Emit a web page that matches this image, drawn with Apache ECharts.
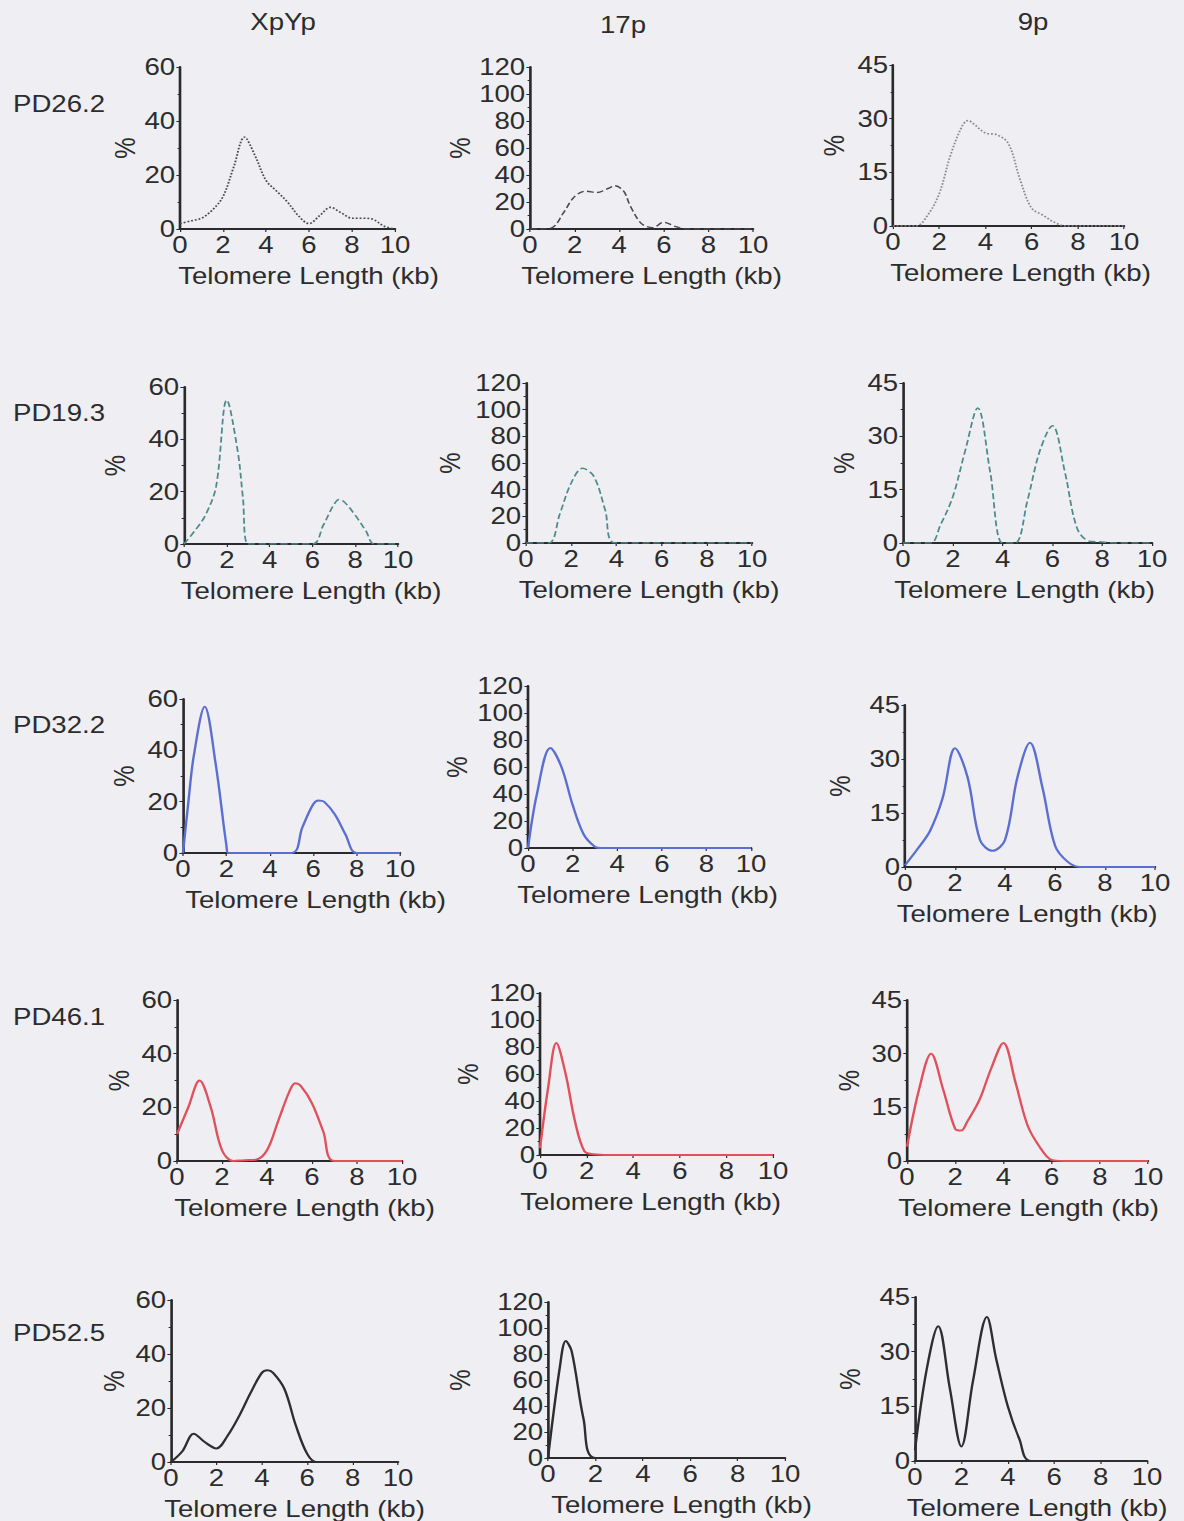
<!DOCTYPE html>
<html>
<head>
<meta charset="utf-8">
<script src="https://cdn.jsdelivr.net/npm/echarts@6/dist/echarts.min.js"></script>
<style>
  html, body { margin: 0; padding: 0; background: #eeeef3; overflow: hidden; }
  /* the scanned figure is stretched sideways, so the chart is drawn narrow and widened */
  #chart { width: 987px; height: 1521px; transform: scaleX(1.2); transform-origin: 0 0; }
</style>
</head>
<body>
<div id="chart"></div>
<script>
const SX = 1.2

const rowLabels = ['PD26.2', 'PD19.3', 'PD32.2', 'PD46.1', 'PD52.5']
const colLabels = ['XpYp', '17p', '9p']
const yMax = [60, 120, 45]
const yStep = [20, 20, 15]
const xTickStep = 2

// [kb, %]
const pd26_XpYp = [[0, 2], [0.5, 3], [1, 4], [1.5, 7], [2, 12], [2.5, 23], [3, 34], [3.5, 27], [4, 18], [4.5, 14], [5, 10], [5.5, 5], [6, 2], [6.5, 5], [7, 8], [7.5, 6], [8, 4], [8.5, 4], [9, 3.5], [9.5, 1], [10, 0]]
const pd26_17p = [[0, 0], [0.5, 0], [1, 1], [1.5, 12], [2, 24], [2.5, 28], [3, 27], [3.5, 30], [3.8, 32], [4.2, 28], [4.5, 17], [5, 4], [5.5, 1], [6, 5], [6.5, 2], [7, 0], [8, 0], [10, 0]]
const pd26_9p = [[0, 0], [1, 0], [1.5, 3], [2, 9], [2.5, 20], [3, 28], [3.25, 29.5], [3.5, 28.5], [4, 26], [4.5, 25.5], [5, 23], [5.5, 13], [6, 5], [6.5, 3], [7, 1], [7.5, 0], [10, 0]]

const pd19_XpYp = [[0, 0], [0.5, 5], [1, 11], [1.5, 22], [2, 55], [2.5, 36], [2.75, 18], [3, 0], [6, 0], [6.5, 7], [7, 15], [7.25, 17], [7.5, 16], [8, 11], [8.5, 5], [8.9, 0], [10, 0]]
const pd19_17p = [[0, 0], [1, 0], [1.5, 22], [2, 45], [2.5, 56], [3, 50], [3.5, 25], [3.95, 0], [10, 0]]
const pd19_9p = [[0, 0], [1.1, 0], [1.5, 5], [2, 13], [2.5, 26], [3, 38], [3.5, 20], [4, 0], [4.5, 0], [5, 12], [5.5, 26], [6, 33], [6.5, 20], [7, 4], [7.5, 0.5], [8, 0.3], [8.5, 0], [10, 0]]

const pd32_XpYp = [[0, 0], [0.25, 20], [0.5, 38], [1, 57], [1.5, 35], [2, 3], [2.1, 0], [5, 0], [5.5, 10], [6, 19], [6.25, 20.5], [6.5, 20], [7, 15], [7.5, 7], [8, 0], [10, 0]]
const pd32_17p = [[0, 0], [0.4, 40], [1, 74], [1.5, 60], [2, 32], [2.5, 10], [3, 1], [3.3, 0], [10, 0]]
const pd32_9p = [[0, 0.5], [0.5, 5], [1, 10], [1.5, 19], [2, 33], [2.5, 25], [3, 7.5], [3.5, 4.5], [4, 7.5], [4.5, 25], [5, 34.5], [5.5, 22], [6, 6], [6.5, 1.5], [7, 0], [10, 0]]

const pd46_XpYp = [[0, 10], [0.5, 20], [1, 30], [1.5, 20], [2, 4], [2.5, 0], [3, 0.3], [3.5, 0.5], [4, 4], [4.5, 15], [5, 26], [5.25, 29], [5.5, 28], [6, 21.5], [6.5, 11], [7, 0], [10, 0]]
const pd46_17p = [[0, 5], [0.35, 50], [0.7, 83], [1.1, 60], [1.5, 25], [1.9, 3], [2.3, 0.5], [3, 0], [10, 0]]
const pd46_9p = [[0, 4], [0.5, 20], [1, 30], [1.5, 20], [2, 9], [2.25, 8.5], [2.5, 11], [3, 17], [3.5, 26], [4, 33], [4.5, 22], [5, 10], [5.5, 4], [6, 0.3], [6.5, 0], [10, 0]]

const pd52_XpYp = [[0, 0], [0.5, 4], [1, 10.5], [1.5, 7.3], [2, 5], [2.5, 9.8], [3, 17], [3.5, 25.5], [4, 33], [4.25, 34], [4.5, 33], [5, 27], [5.5, 13.5], [6, 3], [6.4, 0], [10, 0]]
const pd52_17p = [[0, 0], [0.5, 70], [0.75, 90], [1, 82], [1.5, 30], [2, 0], [10, 0]]
const pd52_9p = [[0, 3], [0.5, 25], [1, 37], [1.5, 20], [2, 4], [2.5, 22], [3.1, 39.5], [3.5, 28], [4, 15], [4.5, 6], [5, 0], [10, 0]]

const panelData = [
  [pd26_XpYp, pd26_17p, pd26_9p],
  [pd19_XpYp, pd19_17p, pd19_9p],
  [pd32_XpYp, pd32_17p, pd32_9p],
  [pd46_XpYp, pd46_17p, pd46_9p],
  [pd52_XpYp, pd52_17p, pd52_9p]
]

// plot boxes in picture pixels: left, top, width, height
const boxes = [
  [[180, 67, 215, 162], [530, 67, 223, 162], [893, 65, 231, 161]],
  [[184, 387, 214, 157], [526, 383, 226, 160], [903, 383, 249, 160]],
  [[183, 699, 217, 154], [528, 686, 223, 162], [905, 705, 250, 162]],
  [[177, 1000, 225, 161], [540, 993, 233, 162], [907, 1000, 241, 161]],
  [[171, 1300, 227, 163], [548, 1302, 237, 156], [915, 1297, 232, 164]]
]
// where the axis titles sit: gap of the % from the y axis, sideways shift of the x title
const pctGap = [[34, 40, 37], [45, 51, 37], [37, 47, 42], [36, 48, 36], [35, 61, 42]]
const nameShift = [[21, 10, 12], [20, 10, -3], [24, 8, -3], [15, -6, 1], [10, 15, 6]]
const rowLabelY = [104, 413, 725, 1017, 1333]
const colTitlePos = [[283, 22], [623, 25], [1033, 22]]

const lineStyles = [
  [{ color: '#4a4a4a', type: 'dotted', width: 1.6 }, { color: '#4a4a4a', type: 'dashed', width: 1.4 }, { color: '#8c8c8c', type: 'dotted', width: 1.6 }],
  [{ color: '#4e8c8c', type: 'dashed', width: 1.5 }, { color: '#4e8c8c', type: 'dashed', width: 1.5 }, { color: '#4e8c8c', type: 'dashed', width: 1.5 }],
  [{ color: '#5b6fd2', type: 'solid', width: 2 }, { color: '#5b6fd2', type: 'solid', width: 2 }, { color: '#5b6fd2', type: 'solid', width: 2 }],
  [{ color: '#e2505c', type: 'solid', width: 2 }, { color: '#e2505c', type: 'solid', width: 2 }, { color: '#e2505c', type: 'solid', width: 2 }],
  [{ color: '#2e2e2e', type: 'solid', width: 2 }, { color: '#2e2e2e', type: 'solid', width: 2 }, { color: '#2e2e2e', type: 'solid', width: 2 }]
]

const font = 'Liberation Sans, Arial, sans-serif'
const textColor = '#2c2c2c'
const fs = 23

const grid = []
const xAxis = []
const yAxis = []
const series = []
const graphic = []

boxes.forEach((row, r) => {
  row.forEach((b, c) => {
    const i = grid.length
    const shift = nameShift[r][c] * 2 / SX
    grid.push({ left: b[0] / SX, top: b[1], width: b[2] / SX, height: b[3], containLabel: false })
    xAxis.push({
      gridIndex: i,
      type: 'value',
      min: 0,
      max: 10,
      interval: xTickStep,
      name: 'Telomere Length (kb)',
      nameLocation: 'middle',
      nameGap: 35,
      nameTextStyle: {
        fontSize: fs, color: textColor, fontFamily: font,
        padding: shift >= 0 ? [0, 0, 0, shift] : [0, -shift, 0, 0]
      },
      axisLine: { onZero: false, lineStyle: { color: '#2a2a2a', width: 2.2 } },
      axisTick: { show: true, length: 3, lineStyle: { color: '#2a2a2a' } },
      axisLabel: { fontSize: fs, color: textColor, fontFamily: font, margin: 4 },
      splitLine: { show: false }
    })
    yAxis.push({
      gridIndex: i,
      type: 'value',
      min: 0,
      max: yMax[c],
      interval: yStep[c],
      name: '%',
      nameLocation: 'middle',
      nameGap: pctGap[r][c],
      nameTextStyle: { fontSize: 24, color: textColor, fontFamily: font },
      axisLine: { show: true, lineStyle: { color: '#2a2a2a', width: 2.2 } },
      axisTick: { show: true, length: 3, lineStyle: { color: '#2a2a2a' } },
      minorTick: { show: true, splitNumber: 2, length: 2, lineStyle: { color: '#2a2a2a' } },
      axisLabel: { fontSize: fs, color: textColor, fontFamily: font, margin: 4 },
      splitLine: { show: false }
    })
    series.push({
      type: 'line',
      xAxisIndex: i,
      yAxisIndex: i,
      data: panelData[r][c],
      smooth: 0.35,
      showSymbol: false,
      clip: true,
      lineStyle: lineStyles[r][c]
    })
  })
})

rowLabels.forEach((t, r) => {
  graphic.push({
    type: 'text',
    x: 13 / SX,
    y: rowLabelY[r],
    style: { text: t, fontSize: fs, fontFamily: font, fill: textColor, textVerticalAlign: 'middle' }
  })
})
colLabels.forEach((t, c) => {
  graphic.push({
    type: 'text',
    x: colTitlePos[c][0] / SX,
    y: colTitlePos[c][1],
    style: { text: t, fontSize: fs, fontFamily: font, fill: textColor, textAlign: 'center', textVerticalAlign: 'middle' }
  })
})

const myChart = echarts.init(document.getElementById('chart'), null, { renderer: 'svg' })
myChart.setOption({
  backgroundColor: 'transparent',
  animation: false,
  grid: grid,
  xAxis: xAxis,
  yAxis: yAxis,
  series: series,
  graphic: graphic
})
</script>
</body>
</html>
